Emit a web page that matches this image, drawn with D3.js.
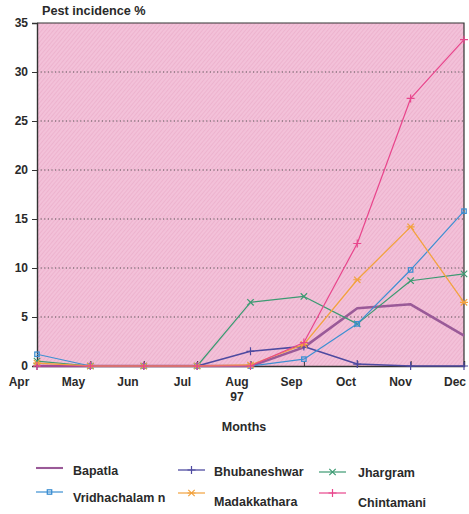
<!DOCTYPE html>
<html>
<head>
<meta charset="utf-8">
<script src="https://cdn.jsdelivr.net/npm/d3@7"></script>
<style>
  html, body { margin: 0; padding: 0; background: #fff; }
  text { font-family: "Liberation Sans", Arial, sans-serif; font-weight: bold; fill: #2a2a2a; }
</style>
</head>
<body>
<svg id="chart" width="469" height="514"></svg>
<script>
// Monthly pest incidence (%) by location, Apr–Dec 1997
const months = ["Apr", "May", "Jun", "Jul", "Aug", "Sep", "Oct", "Nov", "Dec"];
const yTicks = [0, 5, 10, 15, 20, 25, 30, 35];

const bapatla      = [0, 0, 0, 0, 0, 1.9, 5.9, 6.3, 3.1];
const bhubaneshwar = [0, 0, 0, 0, 1.5, 2.0, 0.2, 0, 0];
const jhargram     = [0.5, 0, 0, 0, 6.5, 7.1, 4.3, 8.7, 9.4];
const vridhachalam = [1.2, 0, 0, 0, 0, 0.7, 4.3, 9.8, 15.8];
const madakkathara = [0.3, 0, 0, 0, 0.1, 2.2, 8.8, 14.2, 6.5];
const chintamani   = [0, 0, 0, 0, 0, 2.4, 12.5, 27.3, 33.3];

const seriesNames  = ["Bapatla", "Bhubaneshwar", "Jhargram", "Vridhachalam", "Madakkathara", "Chintamani"];
const seriesValues = [bapatla, bhubaneshwar, jhargram, vridhachalam, madakkathara, chintamani];
const seriesColors = ["#9a5a98", "#4e4aa0", "#3c9a72", "#3d8fd2", "#f2a23e", "#e8468c"];
const seriesWidths = [2.6, 1.6, 1.2, 1.2, 1.3, 1.2];
const seriesMarks  = ["none", "plus", "x", "square", "star", "plus"];

const svg = d3.select("#chart");
const plotLeft = 37, plotRight = 464, plotTop = 23, plotBottom = 366;

const x = d3.scalePoint().domain(months).range([plotLeft, plotRight]);
const xLabel = d3.scalePoint().domain(months).range([19, 455]);
const y = d3.scaleLinear().domain([0, 35]).range([plotBottom, plotTop]);

// hatched pink plot background
const defs = svg.append("defs");
const pat = defs.append("pattern")
  .attr("id", "hatch").attr("patternUnits", "userSpaceOnUse")
  .attr("width", 3).attr("height", 3)
  .attr("patternTransform", "rotate(40)");
pat.append("rect").attr("width", 3).attr("height", 3).attr("fill", "#f3c1d9");
pat.append("line").attr("x1", 0).attr("y1", 0).attr("x2", 0).attr("y2", 3)
  .attr("stroke", "#e7a6c4").attr("stroke-width", 1);

svg.append("rect")
  .attr("x", plotLeft).attr("y", plotTop)
  .attr("width", plotRight - plotLeft).attr("height", plotBottom - plotTop)
  .attr("fill", "url(#hatch)");

// dotted gridlines
svg.append("g").selectAll("line")
  .data(yTicks.filter(d => d > 0 && d < 35))
  .join("line")
  .attr("x1", plotLeft).attr("x2", plotRight)
  .attr("y1", d => y(d)).attr("y2", d => y(d))
  .attr("stroke", "#444").attr("stroke-width", 0.9)
  .attr("stroke-dasharray", "1.2,2.4");

// frame: top and right borders
svg.append("path")
  .attr("d", `M${plotLeft},${plotTop}H${plotRight}V${plotBottom}`)
  .attr("fill", "none").attr("stroke", "#333").attr("stroke-width", 1.2);

// y axis
const yAxis = svg.append("g").attr("transform", `translate(${plotLeft},0)`)
  .call(d3.axisLeft(y).tickValues(yTicks).tickSize(5).tickPadding(4));
yAxis.select(".domain").attr("stroke", "#333").attr("stroke-width", 1.4);
yAxis.selectAll(".tick line").attr("stroke", "#333");
yAxis.selectAll(".tick text").style("font-size", "12px").style("font-family", "Liberation Sans, Arial, sans-serif").style("font-weight", "bold").attr("fill", "#2a2a2a");

// x axis: inner ticks on the plot, labels set slightly apart
const xAxis = svg.append("g").attr("transform", `translate(0,${plotBottom})`)
  .call(d3.axisBottom(x).tickSize(-5).tickFormat(""));
xAxis.select(".domain").attr("stroke", "#333").attr("stroke-width", 1.4);
xAxis.selectAll(".tick line").attr("stroke", "#333");

svg.append("g").selectAll("text")
  .data(months).join("text")
  .attr("x", d => xLabel(d)).attr("y", 386)
  .attr("text-anchor", "middle").style("font-size", "12px")
  .text(d => d);
svg.append("text").attr("x", xLabel("Aug")).attr("y", 401)
  .attr("text-anchor", "middle").style("font-size", "12px").text("97");
svg.append("text").attr("x", 244).attr("y", 431)
  .attr("text-anchor", "middle").style("font-size", "12.5px").text("Months");
svg.append("text").attr("x", 42).attr("y", 15)
  .style("font-size", "12.7px").text("Pest incidence %");

// marker drawing
function marker(g, type, color, size) {
  const s = size;
  if (type === "square") {
    g.append("rect").attr("x", -s * 0.55).attr("y", -s * 0.55)
      .attr("width", s * 1.1).attr("height", s * 1.1)
      .attr("fill", "none").attr("stroke", color).attr("stroke-width", 1.3);
  } else if (type === "plus") {
    g.append("path").attr("d", `M${-s},0H${s}M0,${-s}V${s}`)
      .attr("stroke", color).attr("stroke-width", 1.2);
  } else if (type === "x") {
    g.append("path").attr("d", `M${-s * 0.8},${-s * 0.8}L${s * 0.8},${s * 0.8}M${-s * 0.8},${s * 0.8}L${s * 0.8},${-s * 0.8}`)
      .attr("stroke", color).attr("stroke-width", 1.2);
  } else if (type === "star") {
    g.append("path").attr("d", `M${-s},0H${s}M${-s * 0.8},${-s * 0.8}L${s * 0.8},${s * 0.8}M${-s * 0.8},${s * 0.8}L${s * 0.8},${-s * 0.8}`)
      .attr("stroke", color).attr("stroke-width", 1.2);
  }
}

const line = d3.line().x((d, i) => x(months[i])).y(d => y(d));

seriesValues.forEach((vals, k) => {
  svg.append("path").datum(vals)
    .attr("d", line)
    .attr("fill", "none")
    .attr("stroke", seriesColors[k])
    .attr("stroke-width", seriesWidths[k])
    .attr("stroke-linejoin", "round");
  if (seriesMarks[k] !== "none") {
    vals.forEach((v, i) => {
      const g = svg.append("g").attr("transform", `translate(${x(months[i])},${y(v)})`);
      marker(g, seriesMarks[k], seriesColors[k], 4);
    });
  }
});

// legend: two rows of three entries, the entries sit slightly staggered
const legendX = [36, 178, 319];
const legendRows = [
  { names: ["Bapatla", "Bhubaneshwar", "Jhargram"], lineY: [468, 470, 472], textY: [475, 476, 477] },
  { names: ["Vridhachalam", "Madakkathara", "Chintamani"], lineY: [492, 493, 493], textY: [502, 506, 507] }
];
const textDx = [37, 36, 39];
legendRows.forEach(row => {
  row.names.forEach((name, c) => {
    const k = seriesNames.indexOf(name);
    const lx = legendX[c];
    const g = svg.append("g").attr("transform", `translate(${lx},${row.lineY[c]})`);
    g.append("line").attr("x1", 0).attr("x2", 27).attr("y1", 0).attr("y2", 0)
      .attr("stroke", seriesColors[k]).attr("stroke-width", Math.max(1.2, seriesWidths[k] * 0.8));
    if (seriesMarks[k] !== "none") {
      const m = g.append("g").attr("transform", "translate(13.5,0)");
      marker(m, seriesMarks[k], seriesColors[k], 4);
    }
    svg.append("text").attr("x", lx + textDx[c]).attr("y", row.textY[c])
      .style("font-size", "12.5px")
      .text(name === "Vridhachalam" ? "Vridhachalam n" : name);
  });
});
</script>
</body>
</html>
